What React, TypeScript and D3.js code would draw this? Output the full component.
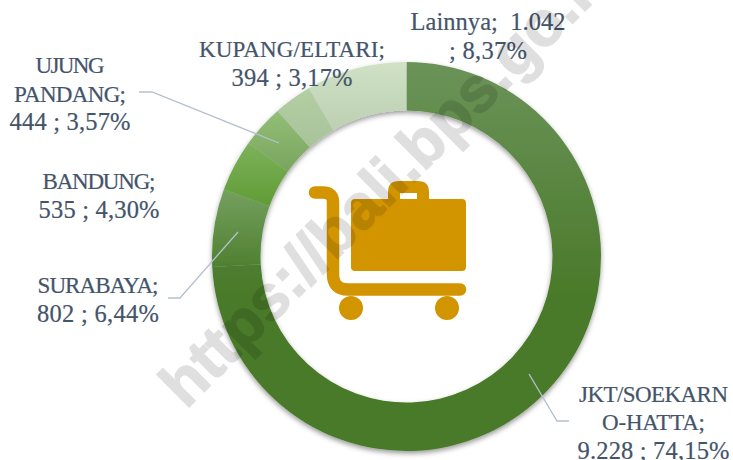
import React from "react";
import * as d3 from "d3";

const categories = ["JKT/SOEKARNO-HATTA", "SURABAYA", "BANDUNG", "UJUNG PANDANG", "KUPANG/ELTARI", "Lainnya"];
const values = [9228, 802, 535, 444, 394, 1042];
const gradTop = ["#6b9359", "#74a05f", "#7cb25a", "#93be77", "#b4cfa3", "#d0e1c5"];
const gradBottom = ["#4a7a2a", "#4f8030", "#609c36", "#78a55f", "#a8c29a", "#bdd0b2"];

const labelLines = [
  ["JKT/SOEKARN", "O-HATTA;", "9.228 ; 74,15%"],
  ["SURABAYA;", "802 ; 6,44%"],
  ["BANDUNG;", "535 ; 4,30%"],
  ["UJUNG", "PANDANG;", "444 ; 3,57%"],
  ["KUPANG/ELTARI;", "394 ; 3,17%"],
  ["Lainnya;  1.042", "; 8,37%"],
];
const lineWidths = [
  [149, 103, 152],
  [121, 122],
  [113, 121],
  [69, 112, 121],
  [186, 121],
  [155, 78],
];
const labelAnchors: [number, number][] = [
  [653.5, 401.5],
  [98, 293],
  [99, 189],
  [70, 73],
  [292, 57],
  [488, 30],
];
const leaders = [
  [[529, 374], [557, 421], [569, 421]],
  [[238, 232], [180, 298], [168, 298]],
  null,
  [[279, 143], [152, 92], [139, 92]],
  null,
  null,
];

const cx = 406.5, cy = 256.5, rOuter = 194.5, rInner = 146;
const FONT = "'Liberation Serif',serif";

export default function App() {
  const pie = d3.pie<number>().sort(null)(values);
  const arc = d3.arc<d3.PieArcDatum<number>>().innerRadius(rInner).outerRadius(rOuter);
  const line = d3.line();
  return (
    <svg width={733} height={460} style={{ position: "absolute", left: 0, top: 0, background: "#fff" }}>
      <defs>
        {categories.map((_, i) => (
          <linearGradient key={i} id={`g${i}`} x1="0" y1="0" x2="0" y2="1">
            <stop offset="0" stopColor={gradTop[i]} />
            <stop offset={i === 0 ? 0.6 : 1} stopColor={gradBottom[i]} />
          </linearGradient>
        ))}
        <filter id="sh" x="-10%" y="-10%" width="120%" height="120%">
          <feDropShadow dx="0" dy="2.5" stdDeviation="2.5" floodColor="#000" floodOpacity="0.4" />
        </filter>
      </defs>
      <g transform={`translate(${cx},${cy})`} filter="url(#sh)">
        {pie.map((d, i) => (
          <path key={i} d={arc(d) ?? ""} fill={`url(#g${i})`} />
        ))}
      </g>
      {leaders.map((l, i) =>
        l ? <path key={i} d={line(l as [number, number][]) ?? ""} fill="none" stroke="#b4c0d0" strokeWidth={1.3} /> : null
      )}
      {labelLines.map((lines, i) => (
        <g key={i} fontFamily={FONT} fill="#44546a" stroke="#44546a" strokeWidth={0.2} textAnchor="middle">
          {lines.map((t, j) => (
            <text key={j} x={labelAnchors[i][0]} y={labelAnchors[i][1] + j * 28.5} fontSize={/\d/.test(t) ? 24.5 : 23} textLength={lineWidths[i][j]} lengthAdjust="spacing" style={{ whiteSpace: "pre" }}>{t}</text>
          ))}
        </g>
      ))}
      <g fill="#d29500" transform="translate(290,170)">
        <path d="M25 22.500 H33 Q43 22.500 43 32.500 V104 Q43 119.500 58 119.500 H170" fill="none" stroke="#d29500" strokeWidth={12.5} strokeLinecap="round" />
        <path fillRule="evenodd" d="M65 29 H98 V22 Q98 11 109 11 H128 Q139 11 139 22 V29 H172 Q176 29 176 33 V97 Q176 101 172 101 H65 Q61 101 61 97 V33 Q61 29 65 29 Z M110 23 V29 H127 V23 Z" />
        <circle cx="61" cy="138" r="12" />
        <circle cx="157" cy="138" r="12" />
      </g>
      <g opacity={0.12}>
        <text transform="translate(186,410) rotate(-45)" fontFamily="'Liberation Sans',Arial,sans-serif" fontWeight="700" fontSize={63} fill="#000" stroke="#000" strokeWidth={1.5}>https://bali.bps.go.id</text>
      </g>
    </svg>
  );
}
